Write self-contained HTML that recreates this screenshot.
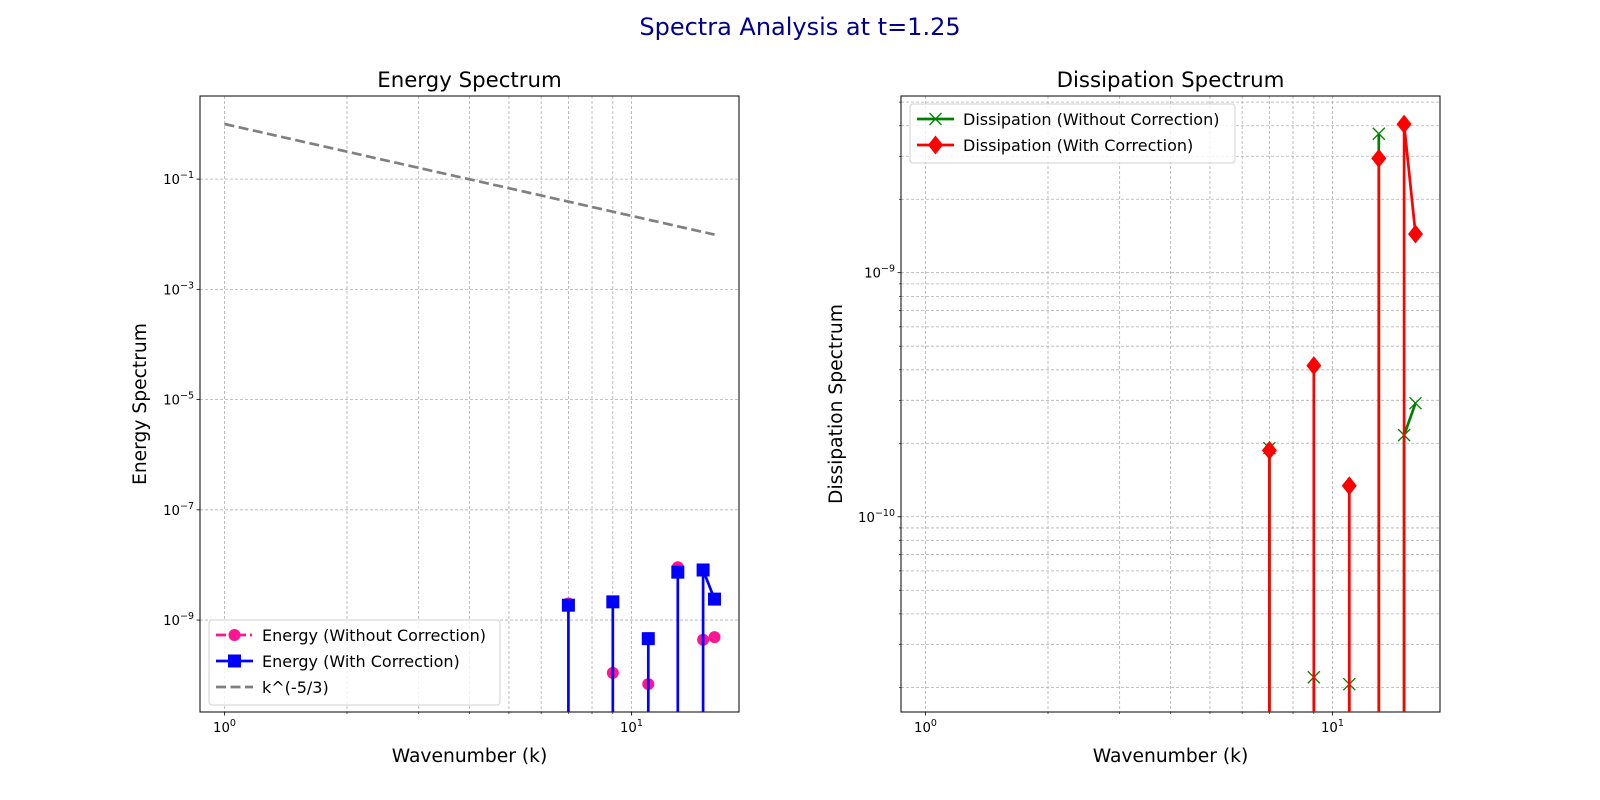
<!DOCTYPE html>
<html><head><meta charset="utf-8"><style>
html,body{margin:0;padding:0;background:#fff;width:1600px;height:800px;overflow:hidden;position:relative}
svg{position:absolute;left:0;top:0;display:block;font-family:"DejaVu Sans","Liberation Sans",sans-serif;overflow:hidden}
</style></head><body>
<svg id="fig" width="1600" height="800" viewBox="0 0 1600 800" xmlns="http://www.w3.org/2000/svg">
<defs>
<clipPath id="clipL"><rect x="200" y="96" width="539" height="616"/></clipPath>
<clipPath id="clipR"><rect x="901" y="96" width="539" height="616"/></clipPath>
</defs>
<text x="800" y="35" text-anchor="middle" font-size="24" fill="#00008b">Spectra Analysis at t=1.25</text>
</svg>
<script>
// ---- data ----
const kValues = [1,2,3,4,5,6,7,8,9,10,11,12,13,14,15,16];
const energyWithout = [0,0,0,0,0,0,2.0e-9,0,1.1e-10,0,6.9e-11,0,9.1e-9,0,4.4e-10,4.9e-10];
const energyWith = [0,0,0,0,0,0,1.86e-9,0,2.14e-9,0,4.6e-10,0,7.4e-9,0,8.1e-9,2.4e-9];
const dissWithout = [0,0,0,0,0,0,1.91e-10,0,2.2e-11,0,2.06e-11,0,3.71e-9,0,2.16e-10,2.92e-10];
const dissWith = [0,0,0,0,0,0,1.87e-10,0,4.16e-10,0,1.34e-10,0,2.94e-9,0,4.06e-9,1.44e-9];
const refK = [1,16];
const leftYTicks = [-1,-3,-5,-7,-9];
const rightYMajor = [-9,-10];
const xMajor = [0,1];

const NS="http://www.w3.org/2000/svg";
const svg=document.getElementById('fig');
function el(tag,attrs,parent){const e=document.createElementNS(NS,tag);for(const k in attrs)e.setAttribute(k,attrs[k]);(parent||svg).appendChild(e);return e;}

function makeAxes(X0,X1,Y0,Y1,xlim,ylim){
  return {X0,X1,Y0,Y1,
    sx:l=>X0+(l-xlim[0])/(xlim[1]-xlim[0])*(X1-X0),
    sy:l=>Y1-(l-ylim[0])/(ylim[1]-ylim[0])*(Y1-Y0), xlim, ylim};
}
function powLabel(x,y,exp,anchor,name){
  const t=el('text',{x:x,y:y,'text-anchor':anchor,'font-size':'13.3',fill:'#000'});
  
  
  t.appendChild(document.createTextNode('10'));
  const s=el('tspan',{dy:'-6','font-size':'9.5'},t);
  s.textContent=(exp<0?'\u2212':'')+Math.abs(exp);
  return t;
}
function drawFrame(ax,yMinorFlag,yMajorList,title,ylabel,prefix){
  const g=el('g',{});
  
  
  const grid='stroke:#b0b0b0;stroke-width:0.8;stroke-dasharray:3,2';
  for(let d=0;d<=1;d++){for(let m=1;m<=9;m++){const l=d+Math.log10(m);if(l<ax.xlim[0]||l>ax.xlim[1])continue;const x=ax.sx(l);
    el('line',{x1:x,x2:x,y1:ax.Y0,y2:ax.Y1,style:grid},g);
    el('line',{x1:x,x2:x,y1:ax.Y1,y2:ax.Y1+(m===1?3.5:2),stroke:'#000','stroke-width':m===1?0.8:0.6},g);}}
  for(const e of xMajor){powLabel(ax.sx(e),ax.Y1+20,e,'middle',prefix+'-x-tick-label');}
  if(yMinorFlag){
    for(let d=Math.floor(ax.ylim[0]);d<=Math.ceil(ax.ylim[1]);d++){for(let m=1;m<=9;m++){const l=d+Math.log10(m);if(l<ax.ylim[0]||l>ax.ylim[1])continue;const y=ax.sy(l);
      el('line',{x1:ax.X0,x2:ax.X1,y1:y,y2:y,style:grid},g);
      el('line',{x1:ax.X0-(m===1?3.5:2),x2:ax.X0,y1:y,y2:y,stroke:'#000','stroke-width':m===1?0.8:0.6},g);}}
  }else{
    for(const l of yMajorList){const y=ax.sy(l);el('line',{x1:ax.X0,x2:ax.X1,y1:y,y2:y,style:grid},g);el('line',{x1:ax.X0-3.5,x2:ax.X0,y1:y,y2:y,stroke:'#000','stroke-width':0.8},g);}
  }
  for(const l of yMajorList){powLabel(ax.X0-6,ax.sy(l)+5,l,'end',prefix+'-y-tick-label');}
  const r=el('rect',{x:ax.X0,y:ax.Y0,width:ax.X1-ax.X0,height:ax.Y1-ax.Y0,fill:'none',stroke:'#000','stroke-width':1});
  
  
  const cx=(ax.X0+ax.X1)/2;
  const t=el('text',{x:cx,y:87,'text-anchor':'middle','font-size':'21.3'});t.textContent=title;
  
  
  const xl=el('text',{x:cx,y:762,'text-anchor':'middle','font-size':'18.7'});xl.textContent='Wavenumber (k)';
  
  
  const yx=prefix==='energy'?146:842;
  const yl=el('text',{x:yx,y:(ax.Y0+ax.Y1)/2,'text-anchor':'middle','font-size':'18.7',transform:`rotate(-90 ${yx} ${(ax.Y0+ax.Y1)/2})`});yl.textContent=ylabel;
  
  
}
function series(ax,clip,ks,vals,color,lw,dash,marker,name,drawLine){
  const g=el('g',{'clip-path':`url(#${clip})`});
  
  
  if(drawLine){
    let d='';
    const bottom=ax.Y1+10;
    for(let i=0;i<ks.length-1;i++){
      const a=vals[i],b=vals[i+1];
      const xa=ax.sx(Math.log10(ks[i])).toFixed(2),xb=ax.sx(Math.log10(ks[i+1])).toFixed(2);
      if(a>0&&b>0)d+=`M${xa},${ax.sy(Math.log10(a)).toFixed(2)} L${xb},${ax.sy(Math.log10(b)).toFixed(2)} `;
      else if(a>0)d+=`M${xa},${ax.sy(Math.log10(a)).toFixed(2)} L${xa},${bottom} `;
      else if(b>0)d+=`M${xb},${bottom} L${xb},${ax.sy(Math.log10(b)).toFixed(2)} `;
    }
    const p=el('path',{d:d,fill:'none',stroke:color,'stroke-width':lw,'stroke-dasharray':dash||'none','stroke-linejoin':'round'},g);
    
    
  }
  ks.forEach((k,i)=>{if(vals[i]<=0)return;drawMarker(g,ax.sx(Math.log10(k)),ax.sy(Math.log10(vals[i])),marker,color,name+'-point');});
}
function drawMarker(g,x,y,marker,color,name){
  let m;
  if(marker==='o')m=el('circle',{cx:x,cy:y,r:6,fill:color},g);
  else if(marker==='s')m=el('rect',{x:x-6.5,y:y-6.5,width:13,height:13,fill:color},g);
  else if(marker==='D')m=el('path',{d:`M${x},${y-9.5} L${x+7.5},${y} L${x},${y+9.5} L${x-7.5},${y} Z`,fill:color},g);
  else m=el('path',{d:`M${x-6},${y-6} L${x+6},${y+6} M${x+6},${y-6} L${x-6},${y+6}`,stroke:color,'stroke-width':1.3,fill:'none'},g);
  
  
}
function legend(x,y,w,rows,name){
  const g=el('g',{});
  
  
  el('rect',{x:x,y:y,width:w,height:rows.length*26+7,rx:3,fill:'#fff','fill-opacity':0.8,stroke:'#d0d0d0'},g);
  rows.forEach((r,i)=>{const cy=y+15+i*26;
    const e=el('g',{},g);
    
    
    el('line',{x1:x+7,x2:x+44,y1:cy,y2:cy,stroke:r.c,'stroke-width':r.lw,'stroke-dasharray':r.dash||'none'},e);
    if(r.m)drawMarker(e,x+25.5,cy,r.m,r.c,'legend-marker');
    const t=el('text',{x:x+53,y:cy+6,'font-size':'16'},e);t.textContent=r.t;
  });
}

const L=makeAxes(200,739,96,712,[-0.0602,1.2643],[-10.668,0.508]);
drawFrame(L,false,leftYTicks,'Energy Spectrum','Energy Spectrum','energy');
(function(){const g=el('g',{'clip-path':'url(#clipL)'});
  
  
  const d=refK.map((k,i)=>(i?'L':'M')+L.sx(Math.log10(k))+','+L.sy(-5/3*Math.log10(k))).join(' ');
  el('path',{d:d,stroke:'#808080','stroke-width':2.7,fill:'none','stroke-dasharray':'10,4.5'},g);})();
series(L,'clipL',kValues,energyWithout,'#ff1493',2.7,'none','o','energy-without-correction',false);
series(L,'clipL',kValues,energyWith,'#0000ff',2.7,null,'s','energy-with-correction',true);
legend(209,620,291,[{t:'Energy (Without Correction)',c:'#ff1493',lw:2.7,dash:'10,4,2,4',m:'o'},{t:'Energy (With Correction)',c:'#0000ff',lw:2.7,m:'s'},{t:'k^(-5/3)',c:'#808080',lw:2.7,dash:'10,4.5'}],'energy-legend');

const R=makeAxes(901,1440,96,712,[-0.0602,1.2643],[-10.80,-8.276]);
drawFrame(R,true,rightYMajor,'Dissipation Spectrum','Dissipation Spectrum','dissipation');
series(R,'clipR',kValues,dissWithout,'#008000',2.7,null,'x','dissipation-without-correction',true);
series(R,'clipR',kValues,dissWith,'#ff0000',2.7,null,'D','dissipation-with-correction',true);
legend(910,104,325,[{t:'Dissipation (Without Correction)',c:'#008000',lw:2.7,m:'x'},{t:'Dissipation (With Correction)',c:'#ff0000',lw:2.7,m:'D'}],'dissipation-legend');
</script>
</body></html>
